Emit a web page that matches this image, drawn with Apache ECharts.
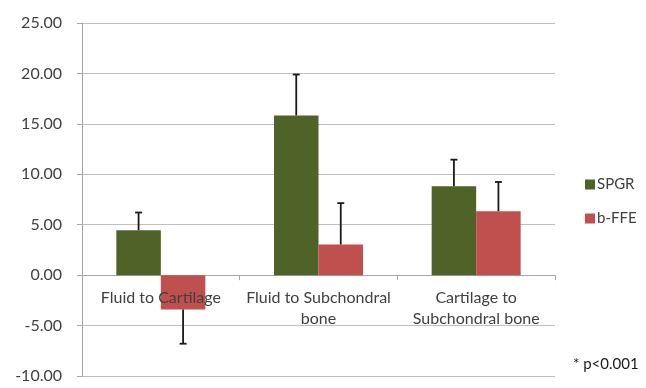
<!DOCTYPE html>
<html>
<head>
<meta charset="utf-8">
<script src="https://cdn.jsdelivr.net/npm/echarts@6/dist/echarts.min.js"></script>
<style>
  html, body { margin: 0; padding: 0; background: #fff; }
  #chart { width: 646px; height: 388px; }
</style>
</head>
<body>
<div id="chart"></div>
<script>
// Categories and measured values (mean and one-sided SD per sequence)
const categories = ['Fluid to Cartilage', 'Fluid to Subchondral\nbone', 'Cartilage to\nSubchondral bone'];
const spgrValues = [4.46, 15.84, 8.81];
const spgrErrors = [1.75, 4.05, 2.64];
const bffeValues = [-3.40, 3.04, 6.34];
const bffeErrors = [3.40, 4.10, 2.90];
const yTicks = { min: -10, max: 25, step: 5 };
const footnote = '* p<0.001';

const BAR_W = 44.5;
const FONT = 'Lato, "Open Sans", sans-serif';
const TEXT = '#404040';
const GRID = { left: 82, right: 91, top: 23, bottom: 12 };
const H = 388;

// One-sided error bar: extends away from zero in the bar's direction
function errorData(values, errors) {
  return values.map((v, i) => [i, v, v >= 0 ? v + errors[i] : v - errors[i]]);
}

function errorSeries(name, values, errors, side) {
  return {
    type: 'custom',
    name: name + ' error',
    z: 5,
    silent: true,
    data: errorData(values, errors),
    encode: { x: 0, y: [1, 2] },
    renderItem: function (params, api) {
      const i = api.value(0);
      const p0 = api.coord([i, api.value(1)]);
      const p1 = api.coord([i, api.value(2)]);
      const x = p0[0] + side * BAR_W / 2;
      const cap = 3.5;
      const style = { stroke: '#1a1a1a', lineWidth: 1.8 };
      return {
        type: 'group',
        children: [
          { type: 'line', shape: { x1: x, y1: p0[1], x2: x, y2: p1[1] }, style: style },
          { type: 'line', shape: { x1: x - cap, y1: p1[1], x2: x + cap, y2: p1[1] }, style: style }
        ]
      };
    }
  };
}

const chart = echarts.init(document.getElementById('chart'), null, { renderer: 'canvas' });
chart.setOption({
  animation: false,
  backgroundColor: '#ffffff',
  grid: Object.assign({ containLabel: false, outerBoundsMode: 'none' }, GRID),
  legend: {
    orient: 'vertical',
    left: 580,
    top: 172,
    itemWidth: 10,
    itemHeight: 10,
    itemGap: 19,
    icon: 'rect',
    data: ['SPGR', 'b-FFE'],
    textStyle: { fontFamily: FONT, fontSize: 15, color: TEXT, padding: [0, 0, 0, -3] }
  },
  xAxis: [
    {
      // axis line and ticks sitting on the zero line
      type: 'category',
      data: categories,
      axisLine: { onZero: true, lineStyle: { color: '#a6a6a6', width: 1 } },
      axisTick: { show: true, length: 5, lineStyle: { color: '#a6a6a6' } },
      axisLabel: { show: false },
      splitLine: { show: false }
    },
    {
      // category labels, shifted up to sit under the zero line
      type: 'category',
      data: categories,
      position: 'bottom',
      offset: 0,
      z: 10,
      axisLine: { show: false, onZero: false },
      axisTick: { show: false },
      axisLabel: { fontFamily: FONT, fontSize: 16, color: TEXT, margin: 12, lineHeight: 21, interval: 0 },
      splitLine: { show: false }
    }
  ],
  yAxis: {
    type: 'value',
    min: yTicks.min,
    max: yTicks.max,
    interval: yTicks.step,
    axisLine: { show: true, lineStyle: { color: '#a6a6a6', width: 1 } },
    axisTick: { show: true, length: 5, lineStyle: { color: '#a6a6a6' } },
    axisLabel: {
      fontFamily: FONT, fontSize: 16, color: TEXT, margin: 20,
      formatter: v => v.toFixed(2)
    },
    splitLine: { show: true, lineStyle: { color: '#bfbfbf', width: 1 } }
  },
  series: [
    {
      name: 'SPGR', type: 'bar', data: spgrValues,
      barWidth: BAR_W, barGap: '0%',
      itemStyle: { color: '#4f6228' }
    },
    {
      name: 'b-FFE', type: 'bar', data: bffeValues,
      barWidth: BAR_W, barGap: '0%',
      itemStyle: { color: '#c0504d' }
    },
    errorSeries('SPGR', spgrValues, spgrErrors, -1),
    errorSeries('b-FFE', bffeValues, bffeErrors, 1)
  ],
  graphic: [
    {
      type: 'text', left: 573, top: 357,
      style: { text: footnote, font: '15px ' + FONT, fill: '#1a1a1a' }
    }
  ]
});

// Lift the label axis from the grid bottom up to the zero line
const zeroY = chart.convertToPixel({ yAxisIndex: 0 }, 0);
const bottomY = H - GRID.bottom;
chart.setOption({ xAxis: [{}, { offset: -(bottomY - zeroY) }] });
</script>
</body>
</html>
